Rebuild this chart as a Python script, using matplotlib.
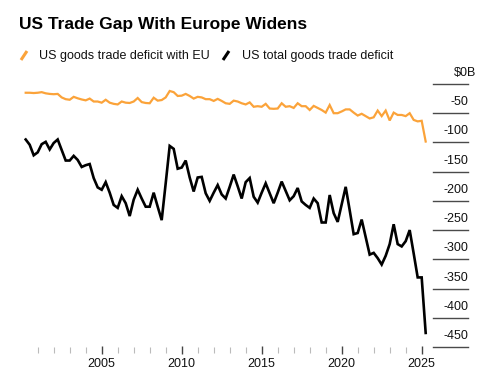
import pandas as pd
import matplotlib
matplotlib.use('Agg')
import matplotlib.pyplot as plt
import matplotlib.transforms as mtransforms
from matplotlib.lines import Line2D

plt.rcParams['font.family'] = ['Liberation Sans', 'DejaVu Sans']

# =====[ Data: quarterly, 2000Q1 .. 2025Q1, billions of USD ]=====

quarters = pd.period_range('2000Q1', '2025Q1', freq='Q')
# plotted at the end of each quarter
x = quarters.year + quarters.quarter / 4

eu_deficit = [
    -15, -15, -15.5, -15, -14, -16, -17, -17.5, -17, -23,
    -26, -27, -22, -24.5, -26.5, -28, -25, -30, -30, -32,
    -27, -32, -34, -35, -30, -32, -32.5, -30, -24, -31,
    -32.5, -33, -23.5, -28.5, -27.5, -23, -12, -14, -20.5, -20,
    -17, -20.5, -25, -22, -23, -26, -26, -29, -25.5, -29,
    -33, -34, -28.5, -30, -33, -35, -31.5, -39, -38, -39,
    -34, -42, -42.5, -42, -33, -39, -38, -41, -33, -38,
    -38, -44.5, -37.5, -41, -44.5, -49, -36, -50, -50, -47,
    -43.5, -43.5, -49, -54, -51, -55, -59, -57, -45.5, -55,
    -45.5, -62.5, -49, -53, -53, -55, -50, -61.5, -64, -63,
    -98.5,
]

total_deficit = [
    -95, -104, -122, -117, -103, -99, -112, -101, -95, -113,
    -131, -131, -123, -130, -142, -139, -137, -161, -177, -181,
    -168, -186, -207, -212, -192, -204, -226, -198, -181, -196,
    -210, -210, -186, -210, -233, -170, -106, -111, -145, -143,
    -131, -160, -184, -160, -159, -187, -200, -186, -173, -189,
    -196, -176, -155, -175, -196, -168, -161, -193, -203, -186,
    -170, -187, -204, -186, -167, -183, -199, -192, -178, -201,
    -207, -212, -196, -204, -237, -237, -190, -221, -236, -206,
    -176, -216, -257, -255, -232, -262, -292, -289, -298, -309,
    -294, -274, -240, -274, -278, -269, -250, -290, -331, -331,
    -426,
]

series_names = ['US goods trade deficit with EU', 'US total goods trade deficit']
series_colors = ['#FBA33A', '#000000']

yticks = [0, -50, -100, -150, -200, -250, -300, -350, -400, -450]
ytick_labels = ['\\$0B', '-50', '-100', '-150', '-200', '-250', '-300', '-350', '-400', '-450']
xticks_major = [2005, 2010, 2015, 2020, 2025]
xticks_minor = list(range(2001, 2026))

# =====[ Layout (pixel based) ]=====

W, H = 485, 387
fig = plt.figure(figsize=(W / 100, H / 100), dpi=100)
ax = fig.add_axes([24 / W, (H - 350) / H, (430 - 24) / W, (350 - 72) / H])

ax.plot(x, eu_deficit, color=series_colors[0], lw=1.6, solid_joinstyle='miter')
ax.plot(x, total_deficit, color=series_colors[1], lw=1.9, solid_joinstyle='miter')

ax.set_xlim(2000.144, 2025.52)
ax.set_ylim(-455.2, 20.5)

for side in ['top', 'bottom', 'left', 'right']:
    ax.spines[side].set_visible(False)

ax.set_yticks([])
ax.set_xticks(xticks_major)
ax.set_xticklabels([str(t) for t in xticks_major])
ax.set_xticks([t for t in xticks_minor if t not in xticks_major], minor=True)
ax.tick_params(axis='x', which='major', direction='inout', length=6, width=1,
               color='#444444', labelsize=9, pad=3, labelcolor='#111111')
ax.tick_params(axis='x', which='minor', direction='inout', length=4, width=0.8,
               color='#bbbbbb')

# right-hand value scale: short rules with the label sitting above
trans = mtransforms.blended_transform_factory(ax.transAxes, ax.transData)
x0 = (433 - 24) / 406
x1 = (468 - 24) / 406
for v, lbl in zip(yticks, ytick_labels):
    ax.plot([x0, x1], [v, v], transform=trans, color='#4a4a4a', lw=1, clip_on=False)
    xr = x1 if v != 0 else (476 - 24) / 406
    ax.annotate(lbl, xy=(xr, v), xycoords=trans, xytext=(0, 7.9),
                textcoords='offset points', ha='right', va='center',
                fontsize=9, color='#111111')

# =====[ Title and legend ]=====

fig.text(19 / W, 1 - 24 / H, 'US Trade Gap With Europe Widens',
         fontsize=12.5, fontweight='bold', va='center', ha='left')

legend_pos = [(21, 39), (223, 242)]
for (sx, tx), name, col in zip(legend_pos, series_names, series_colors):
    fig.add_artist(Line2D([sx / W, (sx + 6) / W], [1 - 60 / H, 1 - 51 / H],
                          color=col, lw=2.2, solid_capstyle='butt'))
    fig.text(tx / W, 1 - 55.5 / H, name, fontsize=9, va='center', ha='left',
             color='#111111')

fig.savefig('out.png', dpi=100)
